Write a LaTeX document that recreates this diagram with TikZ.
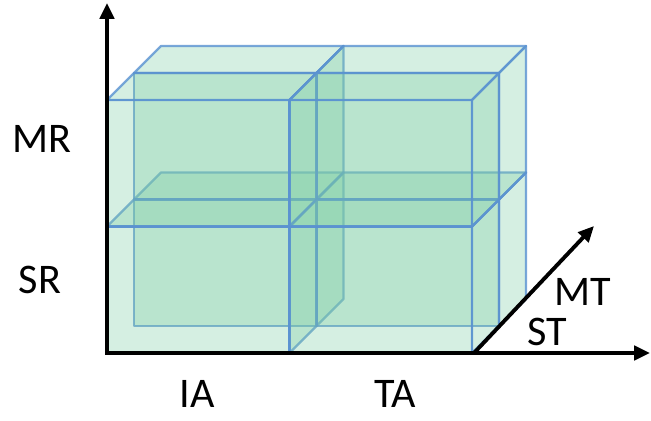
\documentclass[tikz,border=0pt]{standalone}
\usepackage{fontspec}
\setmainfont{Carlito}
\usepackage{xcolor}
\usetikzlibrary{arrows.meta}
\definecolor{cgreen}{HTML}{7DCDA4}
\definecolor{cedge}{HTML}{5A92D2}
\definecolor{cink}{HTML}{000000}

\begin{document}
\begin{tikzpicture}[x=0.02cm,y=0.02cm,
    every node/.style={font=\fontsize{24}{28}\selectfont,text=cink},
    box/.style={fill=cgreen,fill opacity=0.32,draw=cedge,draw opacity=0.8,line width=1.3pt,line join=round},
    axis/.style={cink,line width=2.2pt,{Triangle[length=9pt,width=8pt]}-{Triangle[length=9pt,width=8pt]}}]
  \useasboundingbox (0,0) rectangle (651,421);

  % slabs, back layer first
  \foreach \k in {1,0}
    \foreach \i in {0,1}
      \foreach \j in {0,1} {
        \begin{scope}[shift={({107+\i*182.5+\k*27},{68+\j*126.5+\k*27})}]
          \filldraw[box] (0,0) rectangle (182.5,126.5);
          \filldraw[box] (0,126.5) -- (182.5,126.5) -- (209.5,153.5) -- (27,153.5) -- cycle;
          \filldraw[box] (182.5,0) -- (209.5,27) -- (209.5,153.5) -- (182.5,126.5) -- cycle;
        \end{scope}
      }

  % axes
  \coordinate (o) at (107,68);
  \coordinate (ytip) at (107,418);
  \coordinate (xtip) at (650,68);
  \coordinate (zo) at (474,68);
  \coordinate (ztip) at (594,195);
  \draw[axis,line join=miter] (ytip) -- (o) -- (xtip);
  \draw[cink,line width=2.2pt,-{Triangle[length=9pt,width=8pt]}] (zo) -- (ztip);

  \node (mr) at (42,282) {MR};
  \node (sr) at (40,141) {SR};
  \node[anchor=base,inner sep=0pt] (ia) at (197,13) {IA};
  \node[anchor=base,inner sep=0pt] (ta) at (395,13) {TA};
  \node (mt) at (583,129) {MT};
  \node (st) at (547,89) {ST};
\end{tikzpicture}
\end{document}
